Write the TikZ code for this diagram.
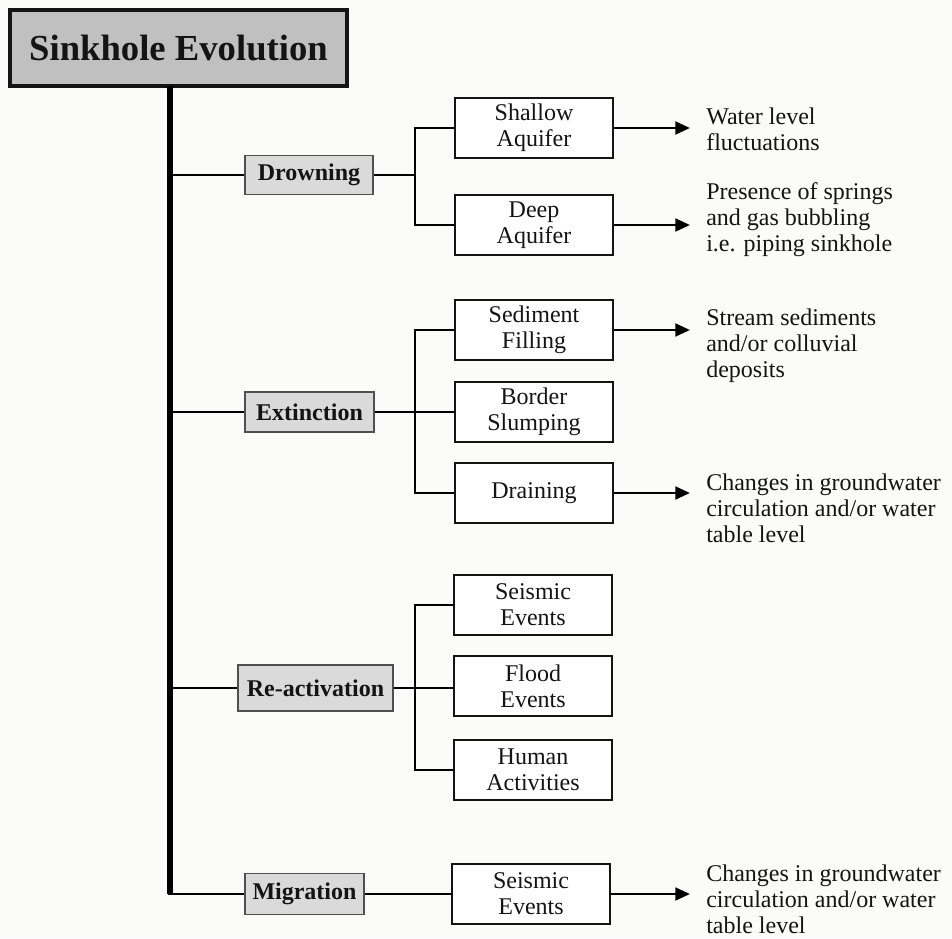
\documentclass[tikz,border=0pt]{standalone}
\usepackage{fontspec}
\setmainfont{Liberation Serif}
\usetikzlibrary{arrows.meta}
\definecolor{bg}{RGB}{251,251,249}
\definecolor{titlegray}{RGB}{192,192,192}
\definecolor{labgray}{RGB}{218,218,218}
\definecolor{ink}{RGB}{20,20,20}
\begin{document}
\begin{tikzpicture}[x=0.75pt,y=-0.75pt,
  every node/.style={font=\fontsize{18}{19.5}\selectfont, text=ink},
  titlebox/.style={draw=ink, line width=2.4pt, fill=titlegray, minimum width=252.75pt, minimum height=57pt, inner sep=0pt, font=\fontsize{27.5}{30}\selectfont\bfseries},
  catbox/.style={draw=ink!75, line width=1.4pt, fill=labgray, inner sep=0pt, font=\fontsize{18}{19.5}\selectfont\bfseries},
  subbox/.style={draw=ink, line width=1.4pt, fill=white, inner sep=0pt, minimum width=118.5pt, minimum height=45pt, align=center},
  note/.style={anchor=north west, inner sep=0pt, align=left},
  trunk/.style={line width=3.8pt, draw=black},
  branch/.style={line width=2.1pt, draw=black},
  arrowline/.style={line width=2.1pt, draw=black, -{Triangle[length=11pt,width=9.5pt]}}
]
\useasboundingbox (0,0) rectangle (952,938);
\fill[bg] (0,0) rectangle (952,938);

% coordinates of the trunk, junction column and arrow tips
\coordinate (tt) at (170,86);
\coordinate (jx) at (415,0);
\coordinate (ax) at (690,0);

% title
\node[titlebox] (title) at (178.5,48) {Sinkhole Evolution};

% category boxes
\node[catbox, minimum width=96pt, minimum height=29.25pt] (drown) at (309,175) {Drowning};
\node[catbox, minimum width=96.75pt, minimum height=30pt] (extinct) at (309.5,412) {Extinction};
\node[catbox, minimum width=116.25pt, minimum height=34.5pt] (react) at (315.5,688) {Re-activation};
\node[catbox, minimum width=89.25pt, minimum height=30.75pt] (migr) at (304.5,894) {Migration};

% sub boxes
\node[subbox] (shallow) at (534,128) {Shallow\\Aquifer};
\node[subbox] (deep) at (534,225) {Deep\\Aquifer};
\node[subbox] (sediment) at (534,330) {Sediment\\Filling};
\node[subbox] (border) at (534,412) {Border\\Slumping};
\node[subbox] (draining) at (534,493) {Draining};
\node[subbox] (seisa) at (533,605) {Seismic\\Events};
\node[subbox] (flood) at (533,686) {Flood\\Events};
\node[subbox] (human) at (533,770) {Human\\Activities};
\node[subbox] (seisb) at (531,894) {Seismic\\Events};

% notes
\node[note] (n1) at (706,108) {Water level\\fluctuations};
\node[note] (n2) at (706,182) {Presence of springs\\and gas bubbling\\i.e. piping sinkhole};
\node[note] (n3) at (706,309) {Stream sediments\\and/or colluvial\\deposits};
\node[note] (n4) at (706,474) {Changes in groundwater\\circulation and/or water\\table level};
\node[note] (n5) at (706,865) {Changes in groundwater\\circulation and/or water\\table level};

% trunk
\draw[trunk] (tt) -- (tt |- migr.west);
\draw[branch] (tt |- drown.west) -- (drown.west);
\draw[branch] (tt |- extinct.west) -- (extinct.west);
\draw[branch] (tt |- react.west) -- (react.west);
\draw[branch] ([xshift=-1.4pt]tt |- migr.west) -- (migr.west);

% drowning
\draw[branch] (drown.east) -- (drown.east -| jx);
\draw[branch] (shallow.west) -| (jx |- deep.west) -- (deep.west);

% extinction
\draw[branch] (extinct.east) -- (border.west);
\draw[branch] (sediment.west) -| (jx |- draining.west) -- (draining.west);

% re-activation
\draw[branch] (react.east) -- (react.east -| flood.west);
\draw[branch] (seisa.west) -| (jx |- human.west) -- (human.west);

% migration
\draw[branch] (migr.east) -- (seisb.west);

% arrows
\draw[arrowline] (shallow.east) -- (shallow.east -| ax);
\draw[arrowline] (deep.east) -- (deep.east -| ax);
\draw[arrowline] (sediment.east) -- (sediment.east -| ax);
\draw[arrowline] (draining.east) -- (draining.east -| ax);
\draw[arrowline] (seisb.east) -- (seisb.east -| ax);
\end{tikzpicture}
\end{document}
